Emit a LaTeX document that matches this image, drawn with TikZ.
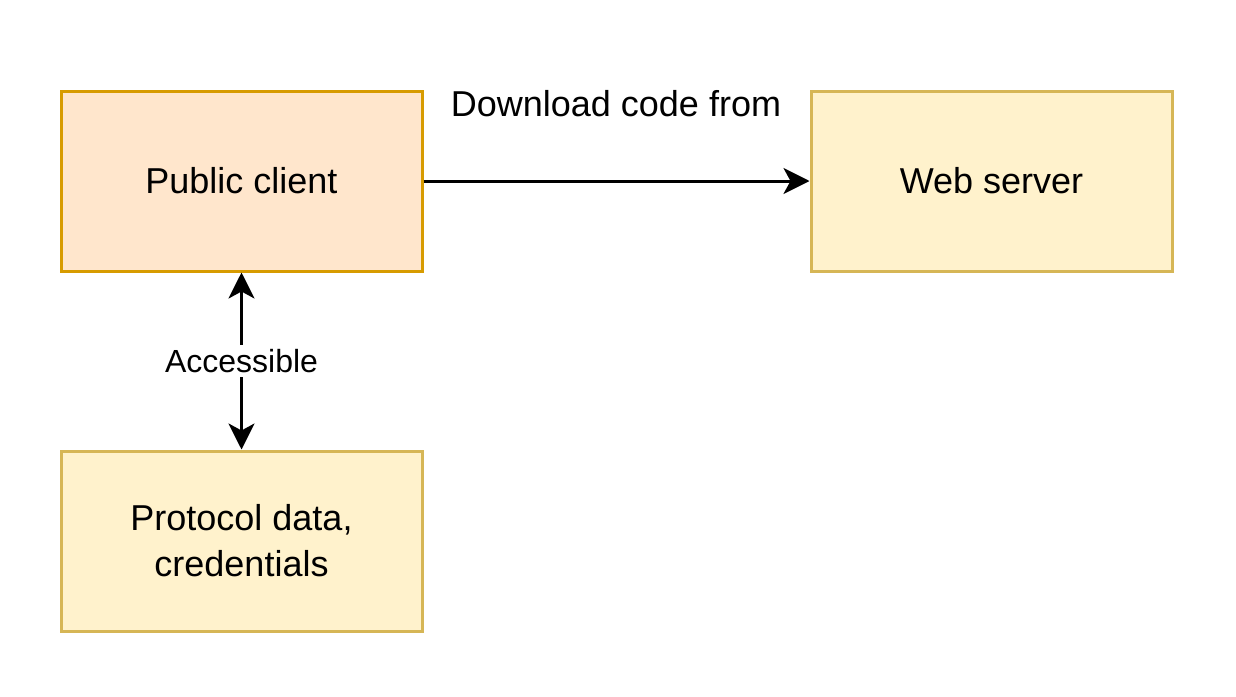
\documentclass[tikz,border=0pt]{standalone}
\usepackage{fontspec}
\setmainfont{Liberation Sans}
\usepackage{tikz}
\usetikzlibrary{arrows.meta}
\definecolor{orangefill}{HTML}{FFE6CC}
\definecolor{orangeline}{HTML}{D79B00}
\definecolor{yellowfill}{HTML}{FFF2CC}
\definecolor{yellowline}{HTML}{D6B656}

\begin{document}
\begin{tikzpicture}[x=1pt, y=-1pt,
    box/.style={draw, line width=3pt, minimum width=361pt, minimum height=180pt, inner sep=0pt, align=center, font=\fontsize{36}{46}\selectfont},
    conn/.style={line width=3pt, -{Stealth[length=26pt, width=26pt, inset=7pt]}},
    every node/.style={font=\fontsize{36}{46}\selectfont}]
  \useasboundingbox (0,0) rectangle (1236,696);
  \node[box, fill=orangefill, draw=orangeline] (client) at (241.5,181) {Public client};
  \node[box, fill=yellowfill, draw=yellowline] (server) at (991.5,181) {Web server};
  \node[box, fill=yellowfill, draw=yellowline] (data) at (241.5,541) {Protocol data,\\credentials};
  \draw[conn] (client) -- (server);
  \node (download) at (616,104) {Download code from};
  \draw[conn, {Stealth[length=26pt, width=26pt, inset=7pt]}-{Stealth[length=26pt, width=26pt, inset=7pt]}] (client) -- (data)
    node[midway, fill=white, inner sep=4pt, font=\fontsize{32}{38}\selectfont] (access) {Accessible};
\end{tikzpicture}
\end{document}
